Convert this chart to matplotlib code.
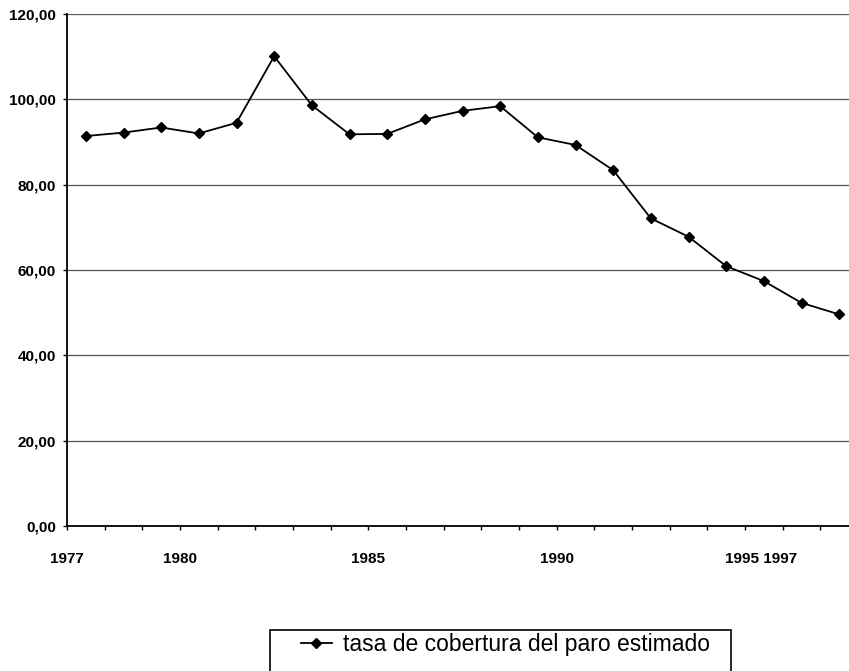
import matplotlib
matplotlib.use("Agg")
import matplotlib.pyplot as plt
from matplotlib.patches import Rectangle
import numpy as np

# tasa de cobertura del paro estimado, 1977-1997
years = list(range(1977, 1998))
tasa = [91.4, 92.2, 93.4, 92.0, 94.5, 110.1, 98.6, 91.8, 91.9, 95.3, 97.3,
        98.4, 91.1, 89.3, 83.4, 72.1, 67.8, 60.9, 57.4, 52.3, 49.6]

# category labels as they appear on the axis (placed at category boundaries)
label_pos = [-0.5, 2.5, 7.5, 12.5]
label_txt = ["1977", "1980", "1985", "1990"]
last_label = "1995 1997"
last_label_pos = 17.93

yticks = [0, 20, 40, 60, 80, 100, 120]

plt.rcParams['font.family'] = ['Liberation Sans', 'DejaVu Sans']

fig = plt.figure(figsize=(8.49, 6.71), dpi=100)
W, H = 849, 671
ax = fig.add_axes([67 / W, 145 / H, (858 - 67) / W, (526 - 14) / H])

x = np.arange(len(years))
ax.plot(x, tasa, color='black', linewidth=1.3, marker='D', markersize=5.5,
        label='tasa de cobertura del paro estimado', zorder=3)

ax.set_xlim(-0.5, len(years) - 0.5)
ax.set_ylim(0, 120)

ax.set_yticks(yticks)
ax.set_yticklabels(['%d,00' % v for v in yticks])
ax.yaxis.grid(True, color='#555555', linewidth=0.9)
ax.set_axisbelow(True)

# ticks at category boundaries, labels only on some
bounds = np.arange(-0.5, len(years) + 0.5, 1.0)
ax.set_xticks(bounds)
ax.set_xticklabels([label_txt[label_pos.index(b)] if b in label_pos else '' for b in bounds])
ax.set_xticks([last_label_pos], [last_label], minor=True)

ax.tick_params(axis='y', direction='out', length=3, width=1, pad=5,
               labelsize=11)
ax.tick_params(axis='x', which='both', direction='out', length=3, width=1,
               pad=16, labelsize=11)
ax.tick_params(axis='x', which='minor', length=0, pad=19)
for lab in ax.get_xticklabels(which='both') + ax.get_yticklabels():
    lab.set_fontweight('bold')

for s in ['top', 'right']:
    ax.spines[s].set_visible(False)
ax.spines['left'].set_linewidth(1.3)
ax.spines['bottom'].set_linewidth(1.3)

# legend box (runs off the bottom of the picture, as in the original)
fig.patches.append(Rectangle((270 / W, -20 / H), (731 - 270) / W, (671 - 630 + 20) / H,
                             transform=fig.transFigure, fill=False,
                             edgecolor='black', linewidth=1.2))
fig.legend(loc='center left', bbox_to_anchor=(301 / W, (671 - 645) / H),
           frameon=False, fontsize=16.5, handlelength=1.35, handletextpad=0.5,
           borderpad=0, borderaxespad=0)

fig.savefig('out.png', dpi=100)
